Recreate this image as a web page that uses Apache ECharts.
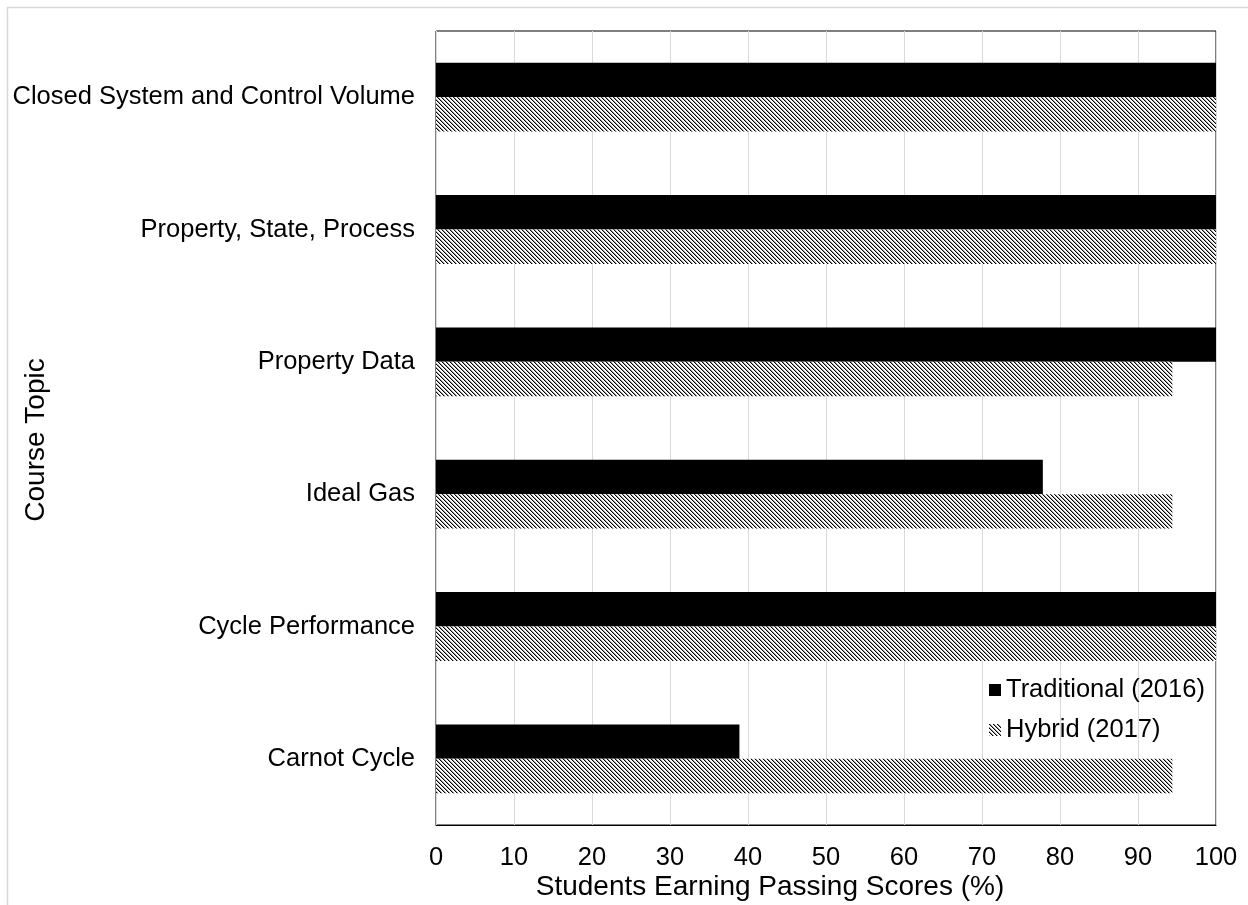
<!DOCTYPE html>
<html>
<head>
<meta charset="utf-8">
<script src="https://cdn.jsdelivr.net/npm/echarts@6/dist/echarts.min.js"></script>
<style>
html,body{margin:0;padding:0;background:#fff;}
#c{width:1248px;height:905px;}
</style>
</head>
<body>
<div id="c"></div>
<script>
var categories = ['Closed System and Control Volume', 'Property, State, Process', 'Property Data', 'Ideal Gas', 'Cycle Performance', 'Carnot Cycle'];
var traditional2016 = [100, 100, 100, 77.8, 100, 38.9];
var hybrid2017 = [100, 100, 94.4, 94.4, 100, 94.4];
var xTicks = [0, 10, 20, 30, 40, 50, 60, 70, 80, 90, 100];

function makeHatch() {
  var n = 4;
  var cv = document.createElement('canvas');
  cv.width = n; cv.height = n;
  var ctx = cv.getContext('2d');
  ctx.fillStyle = '#ffffff';
  ctx.fillRect(0, 0, n, n);
  for (var i = 0; i < n; i++) {
    ctx.fillStyle = '#000000';
    ctx.fillRect(i, i, 1, 1);
    ctx.fillStyle = '#9a9a9a';
    ctx.fillRect((i + 1) % n, i, 1, 1);
  }
  return cv;
}
var hatch = makeHatch();

var font = '"Liberation Sans", Arial, sans-serif';
var chart = echarts.init(document.getElementById('c'), null, {renderer: 'canvas'});
chart.setOption({
  animation: false,
  backgroundColor: '#ffffff',
  textStyle: {fontFamily: font, color: '#000'},
  grid: {left: 436, right: 32, top: 31, bottom: 80, show: true, borderColor: '#000', borderWidth: 1, backgroundColor: 'transparent'},
  legend: {
    orient: 'vertical', left: 984, top: 672, itemWidth: 12, itemHeight: 12, itemGap: 14,
    textStyle: {fontFamily: font, fontSize: 25.5, color: '#000'},
    data: [{name: 'Traditional (2016)', icon: 'rect'}, {name: 'Hybrid (2017)', icon: 'rect'}]
  },
  xAxis: {
    type: 'value', min: 0, max: 100, interval: 10,
    axisLine: {show: true, lineStyle: {color: '#000', width: 1}},
    axisTick: {show: false},
    splitLine: {show: true, lineStyle: {color: '#d9d9d9', width: 1}},
    axisLabel: {fontFamily: font, fontSize: 25.5, color: '#000', margin: 20,
      formatter: function (v) { return xTicks.indexOf(v) >= 0 ? String(v) : ''; }}
  },
  yAxis: {
    type: 'category', data: categories, inverse: true,
    axisLine: {show: true, lineStyle: {color: '#d9d9d9', width: 1}},
    axisTick: {show: false},
    axisLabel: {fontFamily: font, fontSize: 25.5, color: '#000', margin: 21}
  },
  series: [
    {name: 'Traditional (2016)', type: 'bar', data: traditional2016, barGap: '0%', barCategoryGap: '48%',
      itemStyle: {color: '#000000'}},
    {name: 'Hybrid (2017)', type: 'bar', data: hybrid2017, barGap: '0%', barCategoryGap: '48%',
      itemStyle: {color: {image: hatch, repeat: 'repeat'}}}
  ],
  graphic: [
    {type: 'rect', silent: true, shape: {x: 7.5, y: 7.5, width: 1400, height: 1100},
      style: {fill: 'none', stroke: '#d9d9d9', lineWidth: 1.5}},
    {type: 'text', silent: true, x: 770, y: 887,
      style: {text: 'Students Earning Passing Scores (%)', font: '28px ' + font, fill: '#000', textAlign: 'center', textVerticalAlign: 'middle'}},
    {type: 'text', silent: true, x: 36, y: 440, rotation: Math.PI / 2,
      style: {text: 'Course Topic', font: '28px ' + font, fill: '#000', textAlign: 'center', textVerticalAlign: 'middle'}}
  ]
});
</script>
</body>
</html>
